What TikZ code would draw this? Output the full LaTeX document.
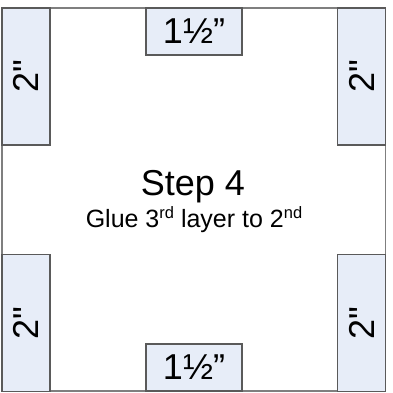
\documentclass[tikz,border=0pt]{standalone}
\usepackage{fontspec}
\setmainfont{Liberation Sans}
\newfontfamily\straightfont[Ligatures=TeXOff]{Liberation Sans}
\definecolor{boxfill}{HTML}{E7EDF8}
\definecolor{boxline}{HTML}{5A5A5A}
\definecolor{frameline}{HTML}{7F7F7F}
\newcommand{\inchlen}{{\straightfont 2"}}
\begin{document}
\begin{tikzpicture}[x=1pt,y=-1pt,
  piece/.style={draw=boxline,fill=boxfill,line width=1.4pt,inner sep=0pt,
    font=\fontsize{36}{40}\selectfont},
  sidebox/.style={piece,minimum width=48pt,minimum height=137pt},
  endbox/.style={piece,minimum width=96pt,minimum height=47pt}]
\useasboundingbox (0,0) rectangle (392,393);
\node[draw=frameline,line width=1.2pt,minimum width=383.5pt,minimum height=383pt,inner sep=0pt] (frame) at (193.75,199.5) {};
\node[sidebox] (tl) at (26,76.5) {\rotatebox{90}{\inchlen}};
\node[sidebox] (bl) at (26,323) {\rotatebox{90}{\inchlen}};
\node[sidebox] (tr) at (361.5,76.5) {\rotatebox{90}{\inchlen}};
\node[sidebox] (br) at (361.5,323) {\rotatebox{90}{\inchlen}};
\node[endbox] (top) at (194,31.5) {1½”};
\node[endbox] (bot) at (194,367.5) {1½”};
\node[anchor=base,inner sep=0pt,font=\fontsize{36}{40}\selectfont] (step) at (193,195) {Step 4};
\node[anchor=base,inner sep=0pt,font=\fontsize{25}{28}\selectfont] (glue) at (194,227)
  {Glue 3\raisebox{0.36em}{\fontsize{16.5}{18}\selectfont rd} layer to 2\raisebox{0.36em}{\fontsize{16.5}{18}\selectfont nd}};
\end{tikzpicture}
\end{document}
